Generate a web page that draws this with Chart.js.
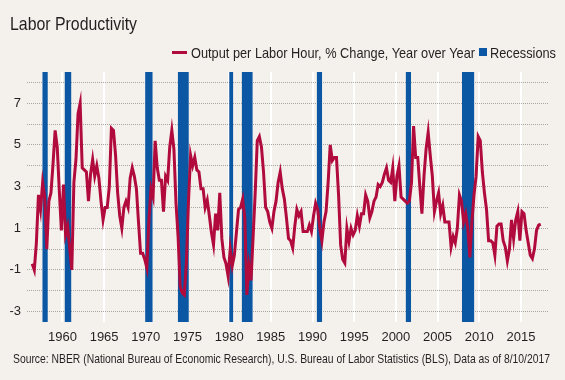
<!DOCTYPE html>
<html><head><meta charset="utf-8">
<script src="https://cdn.jsdelivr.net/npm/chart.js@4.4.1/dist/chart.umd.min.js"></script>
<style>
html,body{margin:0;padding:0;background:#f4f1ed;}
#wrap{position:relative;width:565px;height:380px;overflow:hidden;font-family:"Liberation Sans",Arial,sans-serif;color:#231f20;}
.txt{position:absolute;white-space:nowrap;line-height:1;transform-origin:0 0;}
#title{left:10px;top:14px;font-size:19px;}
#leg1{left:191px;top:44.7px;font-size:15px;}
#leg2{left:490px;top:44.7px;font-size:15px;}
#source{left:13px;top:352px;font-size:13px;}
.sw-line{position:absolute;left:172px;top:50.5px;width:15px;height:3px;background:#b10a3c;}
.sw-box{position:absolute;left:479px;top:48px;width:8px;height:8px;background:#0b57a4;}
canvas{position:absolute;left:0;top:0;}
</style></head>
<body><div id="wrap"><canvas id="c" width="565" height="380"></canvas>
<div class="txt" id="title" data-w="127">Labor Productivity</div>
<span class="sw-line"></span>
<div class="txt" id="leg1" data-w="284">Output per Labor Hour, % Change, Year over Year</div>
<span class="sw-box"></span>
<div class="txt" id="leg2" data-w="66">Recessions</div>
<div class="txt" id="source" data-w="537">Source: NBER (National Bureau of Economic Research), U.S. Bureau of Labor Statistics (BLS), Data as of 8/10/2017</div>
</div>
<script>
// Quarterly observations, first one at 1956.375, one every quarter
const firstQuarter = 1956.375;
const quarterStep = 0.25;
const productivity = [
  -0.7, -1.0, 0.3,
  2.6, 1.9, 3.2, 2.5,
  0.0, 2.3, 2.7, 4.1,
  5.7, 4.9, 2.8, 0.9,
  3.1, 0.7, 1.1, 0.0,
  -1.0, 3.2, 4.3, 6.5,
  7.0, 3.9, 3.8, 3.7,
  2.3, 3.6, 4.3, 3.5,
  4.0, 3.4, 2.3, 1.4,
  2.0, 2.0, 3.0, 5.8,
  5.7, 4.5, 2.7, 1.6,
  1.0, 2.0, 2.3, 2.0,
  3.4, 3.9, 3.5, 2.9,
  1.3, -0.2, -0.2, -0.5,
  -0.9, 1.4, 2.9, 2.5,
  5.2, 3.9, 3.3, 3.3,
  1.8, 3.5, 3.3, 4.9,
  5.7, 4.8, 2.2, 0.6,
  -1.8, -2.1, -2.2, -0.6,
  2.3, 4.5, 4.0, 4.4,
  3.8, 3.7, 2.9, 2.9,
  2.0, 2.35, 1.6, 0.8,
  0.2, 1.7, 0.9, 2.7,
  0.5, -0.4, -0.7, -1.3,
  0.0, -0.8, -0.3, 0.8,
  1.9, 2.0, 2.4, 1.5,
  -2.2, -0.8, -1.5, 0.6,
  2.7, 5.2, 5.4, 4.9,
  3.7, 2.0, 1.8, 1.3,
  1.0, 1.8, 2.3, 3.2,
  3.7, 2.9, 2.4, 1.5,
  0.5, 0.4, 0.05, 1.1,
  1.9, 1.6, 1.8, 0.84,
  0.84, 0.84, 1.16, 0.84,
  1.6, 2.2, 1.9, 1.0,
  0.4, 1.3, 1.8, 3.2,
  5.0, 4.25, 4.4, 4.4,
  2.6, 0.2, -0.5, -0.67,
  1.0, 0.37, 1.0, 0.68,
  0.9, 1.6, 1.1, 1.7,
  1.7, 2.6, 2.3, 1.5,
  1.8, 2.3, 2.5, 3.1,
  3.0, 3.2, 3.6, 3.9,
  3.3, 3.2, 3.9, 2.3,
  3.5, 4.0, 2.5, 2.4,
  2.3, 2.2, 2.3, 3.2,
  5.9, 4.4, 4.4, 3.0,
  1.7, 3.5, 4.8, 5.6,
  4.5, 3.5, 1.8, 2.3,
  2.7, 1.7, 2.1, 1.3,
  1.3, 1.3, 0.1, 0.6,
  0.3, 1.0, 2.6, 2.3,
  1.3, 1.7, 1.0, -0.4,
  1.3, 2.6, 3.5, 5.4,
  5.2, 3.7, 2.7, 1.9,
  0.4, 0.4, 0.3, -0.3,
  1.1, 1.2, 1.2, 0.4,
  0.1, -0.57, 0.0, 1.4,
  0.5, 1.4, 1.8, 0.4,
  1.8, 1.7, 0.9, 0.3,
  -0.3, -0.46, 0.0, 0.9,
  1.15, 1.2
];
// NBER recessions (start / end as decimal years)
const recessionStart = [1957.583, 1960.25, 1969.917, 1973.833, 1980.0, 1981.5, 1990.5, 2001.167, 2007.917];
const recessionEnd   = [1958.25, 1961.083, 1970.833, 1975.167, 1980.5, 1982.833, 1991.167, 2001.833, 2009.417];
const xTickYears = [1960, 1965, 1970, 1975, 1980, 1985, 1990, 1995, 2000, 2005, 2010, 2015];
const yGridValues = [-3, -2, -1, 0, 1, 2, 3, 4, 5, 6, 7, 8];
const yLabelValues = [-3, -1, 1, 3, 5, 7];
const xMin = 1955.75, xMax = 2018.25, yMin = -3.5, yMax = 8.5;

const FONT = '"Liberation Sans", Arial, sans-serif';

// condense the HTML text to the reference's narrow widths
document.querySelectorAll('.txt[data-w]').forEach(el => {
  const w = el.getBoundingClientRect().width;
  el.style.transform = 'scaleX(' + (parseFloat(el.dataset.w) / w) + ')';
});

const linePoints = productivity.map((v, i) => ({x: firstQuarter + i * quarterStep, y: v}));
const recessionPoints = [];
recessionStart.forEach((s, i) => {
  recessionPoints.push({x: s, y: yMax}, {x: recessionEnd[i], y: yMax}, {x: recessionEnd[i], y: null});
});

new Chart(document.getElementById('c'), {
  type: 'line',
  data: {
    datasets: [
      {
        label: 'Output per Labor Hour, % Change, Year over Year',
        data: linePoints,
        borderColor: '#b10a3c',
        borderWidth: 3,
        pointRadius: 0,
        tension: 0,
        fill: false,
        order: 1
      },
      {
        label: 'Recessions',
        data: recessionPoints,
        borderColor: 'rgba(0,0,0,0)',
        borderWidth: 0,
        backgroundColor: '#0b57a4',
        pointRadius: 0,
        spanGaps: false,
        fill: 'start',
        order: 2
      }
    ]
  },
  options: {
    responsive: false,
    animation: false,
    devicePixelRatio: 1,
    layout: {autoPadding: false, padding: {top: 72, right: 17, bottom: 28, left: 0}},
    plugins: {legend: {display: false}, tooltip: {enabled: false}},
    scales: {
      x: {
        type: 'linear', min: xMin, max: xMax,
        afterBuildTicks: s => { s.ticks = xTickYears.map(v => ({value: v})); },
        afterFit: s => { s.height = 30; },
        grid: {color: '#ffffff', lineWidth: 2, drawTicks: false},
        border: {display: false},
        ticks: {color: '#231f20', font: {family: FONT, size: 13}, padding: 8, maxRotation: 0, autoSkip: false,
          callback: v => String(v)}
      },
      y: {
        min: yMin, max: yMax,
        afterBuildTicks: s => { s.ticks = yGridValues.map(v => ({value: v})); },
        afterFit: s => { s.width = 27; },
        grid: {color: '#a9a5a1', lineWidth: 1, drawTicks: false},
        border: {display: false, dash: [1, 1]},
        ticks: {color: '#231f20', font: {family: FONT, size: 13}, padding: 6, autoSkip: false,
          callback: v => yLabelValues.includes(v) ? String(v) : ''}
      }
    }
  }
});
</script>
</body></html>
